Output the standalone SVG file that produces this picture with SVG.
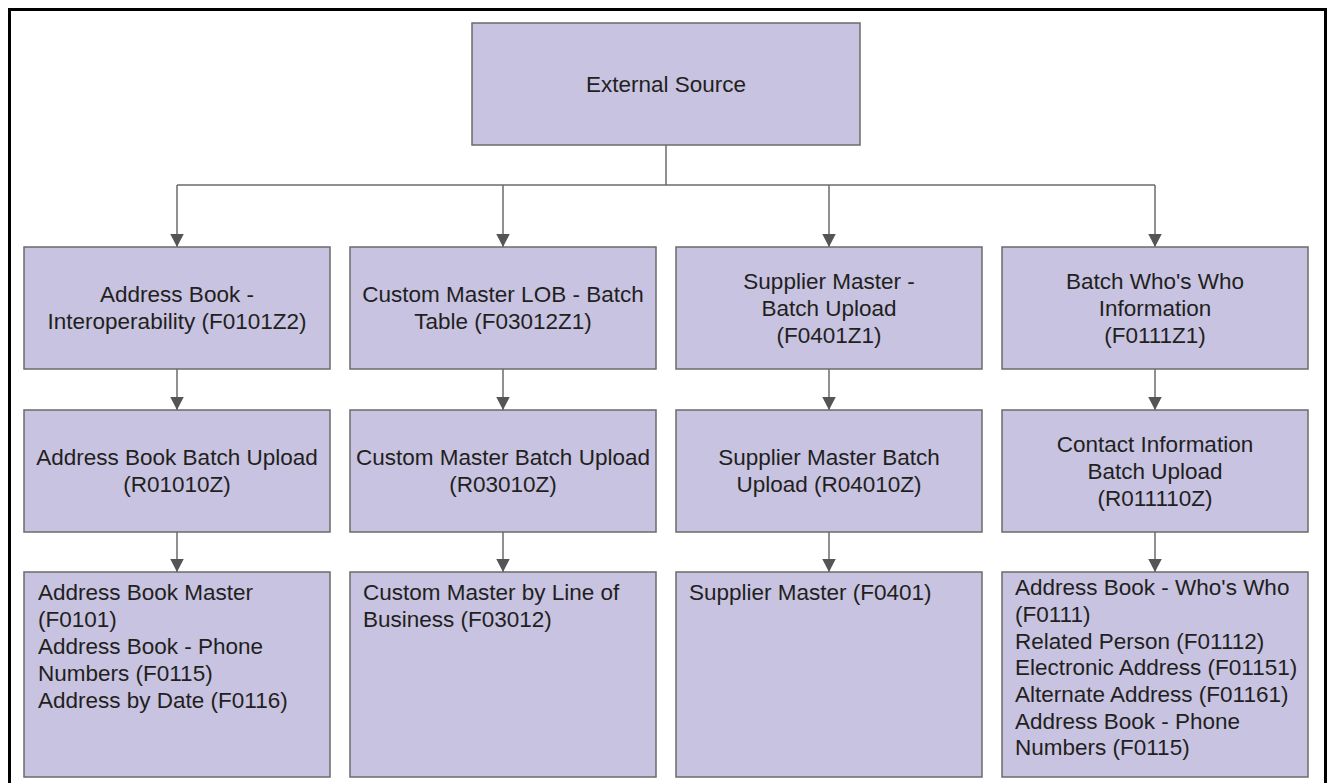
<svg xmlns="http://www.w3.org/2000/svg" width="1327" height="783" viewBox="0 0 1327 783">
<defs>
<style>
.box{fill:#c7c3e0;stroke:#6b6b6b;stroke-width:1.5}
.t{font-family:"Liberation Sans",Arial,sans-serif;font-size:22.5px;fill:#231f20}
.c{text-anchor:middle}
.conn{fill:none;stroke:#6b6b6b;stroke-width:1.5}
.arr{fill:none;stroke:#6b6b6b;stroke-width:1.5;marker-end:url(#ah)}
</style>
<marker id="ah" markerUnits="userSpaceOnUse" markerWidth="14" markerHeight="14" viewBox="0 0 14 14" refX="13.5" refY="7" orient="auto">
<path d="M0,0 L13.5,7 L0,14 Z" fill="#555555"/>
</marker>
</defs>
<rect x="9.5" y="9.5" width="1316" height="790" fill="#ffffff" stroke="#000000" stroke-width="3"/>
<g id="connectors">
<path class="conn" d="M666,145 V185"/>
<path class="conn" d="M177,185 H1155"/>
<path class="arr" d="M177,185 V247"/>
<path class="arr" d="M503,185 V247"/>
<path class="arr" d="M829,185 V247"/>
<path class="arr" d="M1155,185 V247"/>
<path class="arr" d="M177,369 V410"/>
<path class="arr" d="M503,369 V410"/>
<path class="arr" d="M829,369 V410"/>
<path class="arr" d="M1155,369 V410"/>
<path class="arr" d="M177,532 V572"/>
<path class="arr" d="M503,532 V572"/>
<path class="arr" d="M829,532 V572"/>
<path class="arr" d="M1155,532 V572"/>
</g>
<g id="external-source">
<rect class="box" x="472" y="23" width="388" height="122"/>
<text class="t c" x="666" y="92">External Source</text>
</g>
<g id="ab-interop">
<rect class="box" x="24" y="247" width="306" height="122"/>
<text class="t c" x="177" y="302">Address Book -</text>
<text class="t c" x="177" y="329">Interoperability (F0101Z2)</text>
</g>
<g id="cm-lob-batch">
<rect class="box" x="350" y="247" width="306" height="122"/>
<text class="t c" x="503" y="302">Custom Master LOB - Batch</text>
<text class="t c" x="503" y="329">Table (F03012Z1)</text>
</g>
<g id="sm-batch">
<rect class="box" x="676" y="247" width="306" height="122"/>
<text class="t c" x="829" y="289">Supplier Master -</text>
<text class="t c" x="829" y="316">Batch Upload</text>
<text class="t c" x="829" y="343">(F0401Z1)</text>
</g>
<g id="whos-who-batch">
<rect class="box" x="1002" y="247" width="306" height="122"/>
<text class="t c" x="1155" y="289">Batch Who's Who</text>
<text class="t c" x="1155" y="316">Information</text>
<text class="t c" x="1155" y="343">(F0111Z1)</text>
</g>
<g id="ab-batch-upload">
<rect class="box" x="24" y="410" width="306" height="122"/>
<text class="t c" x="177" y="465">Address Book Batch Upload</text>
<text class="t c" x="177" y="492">(R01010Z)</text>
</g>
<g id="cm-batch-upload">
<rect class="box" x="350" y="410" width="306" height="122"/>
<text class="t c" x="503" y="465">Custom Master Batch Upload</text>
<text class="t c" x="503" y="492">(R03010Z)</text>
</g>
<g id="sm-batch-upload">
<rect class="box" x="676" y="410" width="306" height="122"/>
<text class="t c" x="829" y="465">Supplier Master Batch</text>
<text class="t c" x="829" y="492">Upload (R04010Z)</text>
</g>
<g id="contact-batch-upload">
<rect class="box" x="1002" y="410" width="306" height="122"/>
<text class="t c" x="1155" y="452">Contact Information</text>
<text class="t c" x="1155" y="479">Batch Upload</text>
<text class="t c" x="1155" y="506">(R011110Z)</text>
</g>
<g id="ab-master">
<rect class="box" x="24" y="572" width="306" height="205"/>
<text class="t" x="38" y="600">Address Book Master</text>
<text class="t" x="38" y="627">(F0101)</text>
<text class="t" x="38" y="654">Address Book - Phone</text>
<text class="t" x="38" y="681">Numbers (F0115)</text>
<text class="t" x="38" y="708">Address by Date (F0116)</text>
</g>
<g id="cm-by-lob">
<rect class="box" x="350" y="572" width="306" height="205"/>
<text class="t" x="363" y="600">Custom Master by Line of</text>
<text class="t" x="363" y="627">Business (F03012)</text>
</g>
<g id="supplier-master">
<rect class="box" x="676" y="572" width="306" height="205"/>
<text class="t" x="689" y="600">Supplier Master (F0401)</text>
</g>
<g id="ab-whos-who">
<rect class="box" x="1002" y="572" width="306" height="205"/>
<text class="t" x="1015" y="595">Address Book - Who's Who</text>
<text class="t" x="1015" y="622">(F0111)</text>
<text class="t" x="1015" y="649">Related Person (F01112)</text>
<text class="t" x="1015" y="675">Electronic Address (F01151)</text>
<text class="t" x="1015" y="702">Alternate Address (F01161)</text>
<text class="t" x="1015" y="729">Address Book - Phone</text>
<text class="t" x="1015" y="755">Numbers (F0115)</text>
</g>
</svg>
